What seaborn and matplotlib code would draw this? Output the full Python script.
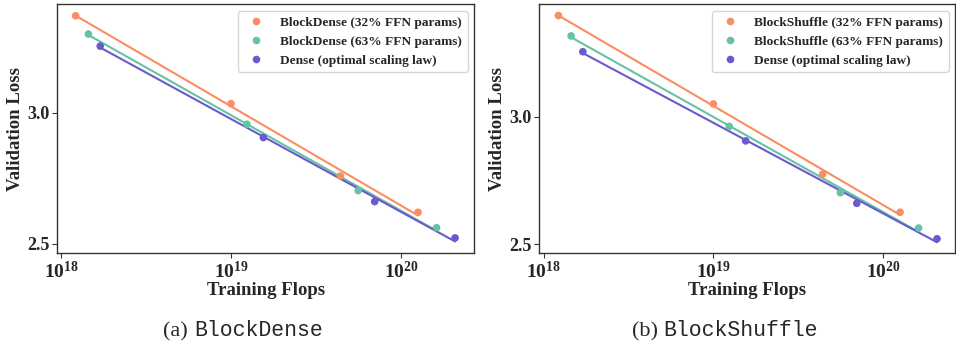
import numpy as np
import pandas as pd
import matplotlib
matplotlib.use('Agg')
import matplotlib.pyplot as plt
import matplotlib.ticker as mticker
import seaborn as sns

# ---- data ----
flops_32 = [1.22e18, 1.0e19, 4.4e19, 1.26e20]
flops_63 = [1.45e18, 1.24e19, 5.6e19, 1.62e20]
flops_dense = [1.7e18, 1.55e19, 7.0e19, 2.08e20]

loss_blockdense_32 = [3.372, 3.036, 2.759, 2.620]
loss_blockdense_63 = [3.302, 2.957, 2.703, 2.561]
loss_blockshuffle_32 = [3.398, 3.051, 2.775, 2.626]
loss_blockshuffle_63 = [3.318, 2.963, 2.703, 2.564]
loss_dense = [3.256, 2.906, 2.661, 2.522]

panel_names = ['BlockDense', 'BlockShuffle']
panel_letters = ['(a)', '(b)']
y_ticks = [2.5, 3.0]
x_ticks = [1e18, 1e19, 1e20]

colors = ['#fc8d62', '#66c2a5', '#6a5acd']

sns.set_theme(style='ticks')
plt.rcParams['font.family'] = ['Liberation Serif', 'DejaVu Serif']
plt.rcParams['font.weight'] = 'bold'
plt.rcParams['mathtext.fontset'] = 'custom'
plt.rcParams['mathtext.rm'] = 'Liberation Serif:bold'
plt.rcParams['mathtext.bf'] = 'Liberation Serif:bold'
plt.rcParams['mathtext.it'] = 'Liberation Serif:bold'


def build_frame(name, loss_32, loss_63):
    labels = [f'{name} (32% FFN params)', f'{name} (63% FFN params)',
              'Dense (optimal scaling law)']
    rows = []
    for lab, xs, ys in zip(labels, [flops_32, flops_63, flops_dense],
                           [loss_32, loss_63, loss_dense]):
        for x, y in zip(xs, ys):
            rows.append({'flops': x, 'loss': y, 'model': lab})
    return pd.DataFrame(rows), labels


fig = plt.figure(figsize=(9.56, 3.45), dpi=100)
ax_rects = [[0.0599, 0.2658, 0.4362, 0.7217], [0.5638, 0.2658, 0.4355, 0.7217]]
ylims = [(2.463, 3.416), (2.465, 3.442)]
xlims = [(10 ** 17.978, 10 ** 20.431), (10 ** 17.972, 10 ** 20.426)]
panel_losses = [(loss_blockdense_32, loss_blockdense_63),
                (loss_blockshuffle_32, loss_blockshuffle_63)]

for i, name in enumerate(panel_names):
    ax = fig.add_axes(ax_rects[i])
    df, labels = build_frame(name, *panel_losses[i])

    # fitted lines (loss vs log flops)
    for lab, col in zip(labels, colors):
        sub = df[df['model'] == lab]
        sns.regplot(data=sub, x='flops', y='loss', ax=ax, logx=True, ci=None,
                    scatter=False, color=col, line_kws={'lw': 1.5})

    sns.scatterplot(data=df, x='flops', y='loss', hue='model', hue_order=labels,
                    palette=colors, s=30, edgecolor='none', ax=ax, zorder=3)

    ax.set_xscale('log')
    ax.set_xlim(*xlims[i])
    ax.set_ylim(*ylims[i])
    ax.set_xticks(x_ticks)
    ax.xaxis.set_minor_locator(mticker.NullLocator())
    ax.xaxis.set_major_formatter(mticker.FuncFormatter(
        lambda v, p: r'$\mathbf{10^{%d}}$' % round(np.log10(v))))
    ax.set_yticks(y_ticks)
    ax.yaxis.set_major_formatter(mticker.FormatStrFormatter('%.1f'))
    ax.tick_params(length=3.5, width=0.8, color='#333333', pad=2)
    ax.tick_params(axis='x', labelsize=14)
    ax.tick_params(axis='y', labelsize=13)
    for t in ax.get_yticklabels():
        t.set_fontweight('bold')
    for sp in ax.spines.values():
        sp.set_visible(True)
        sp.set_color('#333333')
        sp.set_linewidth(1.0)

    ax.set_xlabel('Training Flops', fontsize=13.5, fontweight='bold', labelpad=0)
    ax.set_ylabel('Validation Loss', fontsize=13.5, fontweight='bold', labelpad=2)

    leg = ax.legend(loc='upper right', frameon=True,
                    prop={'weight': 'bold', 'size': 9.6})
    leg.set_title(None)

# captions: serif letter + monospace name
fig.text(0.1708, 0.025, '(a)', fontsize=16, fontweight='normal', ha='left',
         va='baseline', family='Liberation Serif')
fig.text(0.2035, 0.025, 'BlockDense', fontsize=15.5, ha='left', va='baseline',
         family='Liberation Mono', fontweight='normal')
fig.text(0.6614, 0.025, '(b)', fontsize=16, fontweight='normal', ha='left',
         va='baseline', family='Liberation Serif')
fig.text(0.6935, 0.025, 'BlockShuffle', fontsize=15.5, ha='left', va='baseline',
         family='Liberation Mono', fontweight='normal')

fig.savefig('out.png', dpi=100)
